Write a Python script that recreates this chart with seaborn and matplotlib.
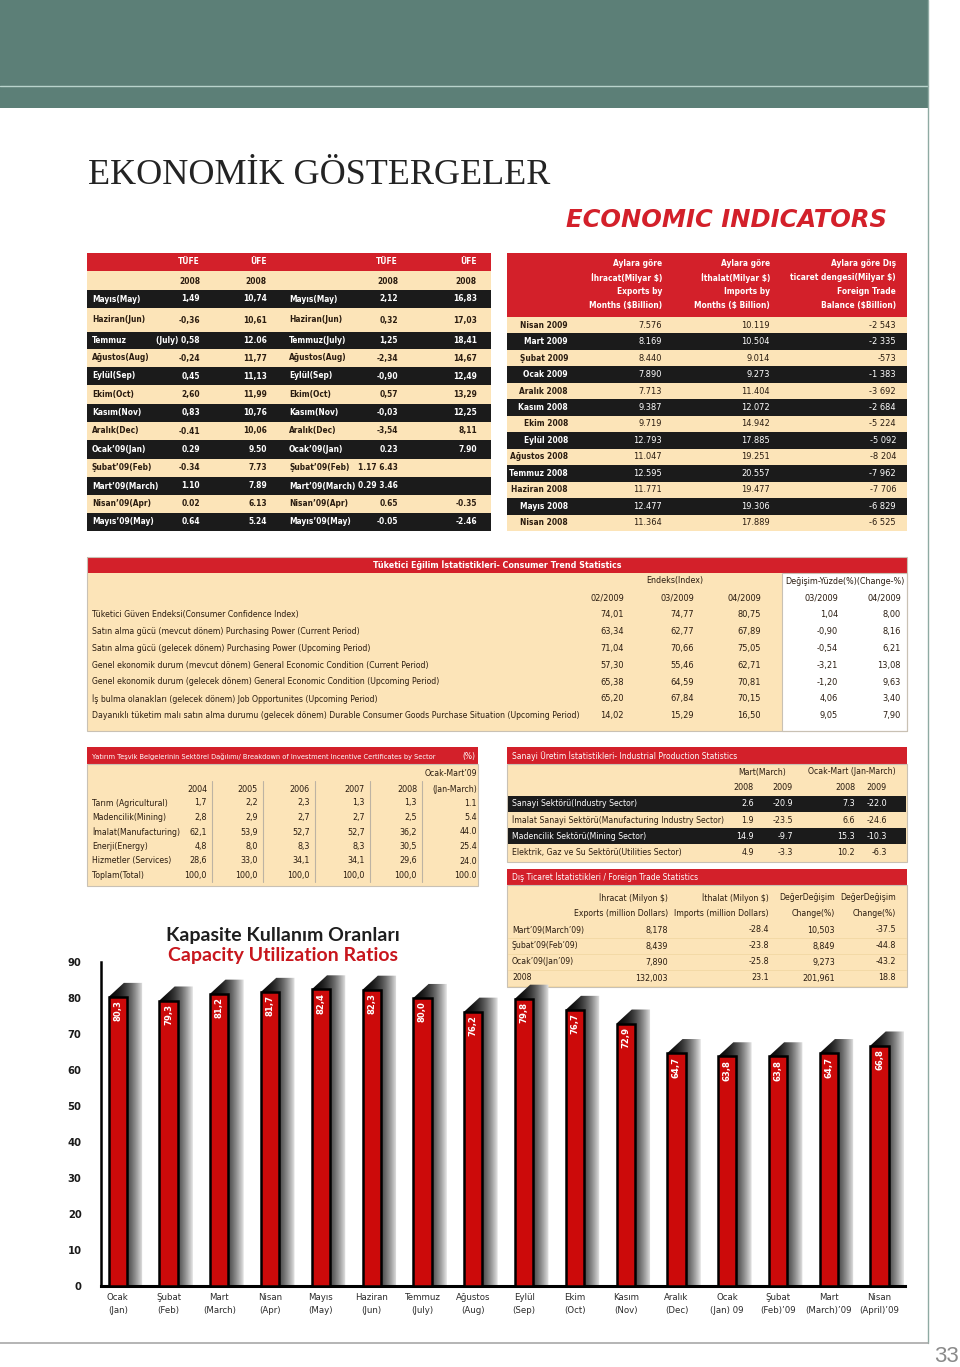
import numpy as np
import pandas as pd
import seaborn as sns
import matplotlib
matplotlib.use("Agg")
import matplotlib.pyplot as plt
from matplotlib import font_manager as fm
from matplotlib.patches import Rectangle, Polygon

# ---------------- data ----------------
# Table 1 : TÜFE / ÜFE
inf_labels_left = ["Mayıs(May)", "Haziran(Jun)", "Temmuz", "Ağustos(Aug)", "Eylül(Sep)", "Ekim(Oct)",
                   "Kasım(Nov)", "Aralık(Dec)", "Ocak’09(Jan)", "Şubat’09(Feb)", "Mart’09(March)",
                   "Nisan’09(Apr)", "Mayıs’09(May)"]
tufe_left = ["1,49", "-0,36", "(July) 0,58", "-0,24", "0,45", "2,60", "0,83", "-0.41", "0.29", "-0.34",
             "1.10", "0.02", "0.64"]
ufe_left = ["10,74", "10,61", "12.06", "11,77", "11,13", "11,99", "10,76", "10,06", "9.50", "7.73",
            "7.89", "6.13", "5.24"]
inf_labels_right = ["Mayıs(May)", "Haziran(Jun)", "Temmuz(July)", "Ağustos(Aug)", "Eylül(Sep)", "Ekim(Oct)",
                    "Kasım(Nov)", "Aralık(Dec)", "Ocak’09(Jan)", "Şubat’09(Feb)", "Mart’09(March)",
                    "Nisan’09(Apr)", "Mayıs’09(May)"]
tufe_right = ["2,12", "0,32", "1,25", "-2,34", "-0,90", "0,57", "-0,03", "-3,54", "0.23", "1.17 6.43",
              "0.29 3.46", "0.65", "-0.05"]
ufe_right = ["16,83", "17,03", "18,41", "14,67", "12,49", "13,29", "12,25", "8,11", "7.90", "", "",
             "-0.35", "-2.46"]

# Table 2 : monthly foreign trade
trade_months = ["Nisan 2009", "Mart 2009", "Şubat 2009", "Ocak 2009", "Aralık 2008", "Kasım 2008",
                "Ekim 2008", "Eylül 2008", "Ağustos 2008", "Temmuz 2008", "Haziran 2008", "Mayıs 2008",
                "Nisan 2008"]
exports_bn = ["7.576", "8.169", "8.440", "7.890", "7.713", "9.387", "9.719", "12.793", "11.047", "12.595",
              "11.771", "12.477", "11.364"]
imports_bn = ["10.119", "10.504", "9.014", "9.273", "11.404", "12.072", "14.942", "17.885", "19.251",
              "20.557", "19.477", "19.306", "17.889"]
balance_bn = ["-2 543", "-2 335", "-573", "-1 383", "-3 692", "-2 684", "-5 224", "-5 092", "-8 204",
              "-7 962", "-7 706", "-6 829", "-6 525"]

# Table 3 : consumer trend statistics
cons_labels = [
    "Tüketici Güven Endeksi(Consumer Confidence Index)",
    "Satın alma gücü (mevcut dönem) Purchasing Power (Current Period)",
    "Satın alma gücü (gelecek dönem) Purchasing Power (Upcoming Period)",
    "Genel ekonomik durum (mevcut dönem) General Economic Condition (Current Period)",
    "Genel ekonomik durum (gelecek dönem) General Economic Condition (Upcoming Period)",
    "İş bulma olanakları (gelecek dönem) Job Opportunites (Upcoming Period)",
    "Dayanıklı tüketim malı satın alma durumu (gelecek dönem) Durable Consumer Goods Purchase Situation (Upcoming Period)",
]
cons_02_2009 = ["74,01", "63,34", "71,04", "57,30", "65,38", "65,20", "14,02"]
cons_03_2009 = ["74,77", "62,77", "70,66", "55,46", "64,59", "67,84", "15,29"]
cons_04_2009 = ["80,75", "67,89", "75,05", "62,71", "70,81", "70,15", "16,50"]
chg_03_2009 = ["1,04", "-0,90", "-0,54", "-3,21", "-1,20", "4,06", "9,05"]
chg_04_2009 = ["8,00", "8,16", "6,21", "13,08", "9,63", "3,40", "7,90"]

# Table 4 : investment incentive certificates
inv_sectors = ["Tarım (Agricultural)", "Madencilik(Mining)", "İmalat(Manufacturing)", "Enerji(Energy)",
               "Hizmetler (Services)", "Toplam(Total)"]
inv_2004 = ["1,7", "2,8", "62,1", "4,8", "28,6", "100,0"]
inv_2005 = ["2,2", "2,9", "53,9", "8,0", "33,0", "100,0"]
inv_2006 = ["2,3", "2,7", "52,7", "8,3", "34,1", "100,0"]
inv_2007 = ["1,3", "2,7", "52,7", "8,3", "34,1", "100,0"]
inv_2008 = ["1,3", "2,5", "36,2", "30,5", "29,6", "100,0"]
inv_2009q1 = ["1.1", "5.4", "44.0", "25.4", "24.0", "100.0"]

# Table 5 : industrial production
ind_sectors = ["Sanayi Sektörü(Industry Sector)", "İmalat Sanayi Sektörü(Manufacturing Industry Sector)",
               "Madencilik Sektörü(Mining Sector)", "Elektrik, Gaz ve Su Sektörü(Utilities Sector)"]
ind_mar_2008 = ["2.6", "1.9", "14.9", "4.9"]
ind_mar_2009 = ["-20.9", "-23.5", "-9.7", "-3.3"]
ind_q1_2008 = ["7.3", "6.6", "15.3", "10.2"]
ind_q1_2009 = ["-22.0", "-24.6", "-10.3", "-6.3"]

# Table 6 : foreign trade statistics
ft_periods = ["Mart’09(March’09)", "Şubat’09(Feb’09)", "Ocak’09(Jan’09)", "2008"]
ft_exports = ["8,178", "8,439", "7,890", "132,003"]
ft_imports = ["-28.4", "-23.8", "-25.8", "23.1"]
ft_change_a = ["10,503", "8,849", "9,273", "201,961"]
ft_change_b = ["-37.5", "-44.8", "-43.2", "18.8"]

# Bar chart : capacity utilization
cap_months_tr = ["Ocak", "Şubat", "Mart", "Nisan", "Mayıs", "Haziran", "Temmuz", "Ağustos", "Eylül",
                 "Ekim", "Kasım", "Aralık", "Ocak", "Şubat", "Mart", "Nisan"]
cap_months_en = ["(Jan)", "(Feb)", "(March)", "(Apr)", "(May)", "(Jun)", "(July)", "(Aug)", "(Sep)",
                 "(Oct)", "(Nov)", "(Dec)", "(Jan) 09", "(Feb)’09", "(March)’09", "(April)’09"]
cap_values = [80.3, 79.3, 81.2, 81.7, 82.4, 82.3, 80.0, 76.2, 79.8, 76.7, 72.9, 64.7, 63.8, 63.8, 64.7, 66.8]
cap_yticks = [0, 10, 20, 30, 40, 50, 60, 70, 80, 90]

# ---------------- style ----------------
sns.set_theme(style="white")
names = {f.name for f in fm.fontManager.ttflist}
NARROW = "Liberation Sans Narrow" if "Liberation Sans Narrow" in names else "DejaVu Sans"
NS = 1.0 if NARROW == "Liberation Sans Narrow" else 0.8
ROUND = "Lato" if "Lato" in names else "DejaVu Sans"
SERIF = "Liberation Serif" if "Liberation Serif" in names else "DejaVu Serif"
plt.rcParams["font.family"] = [NARROW, "DejaVu Sans"]

RED = "#D3202A"
BEIGE = "#FCE4B8"
BLACK = "#1B1B1B"
DARK = "#2A1C10"
BORDER = "#C9C1B4"

fig = plt.figure(figsize=(9.6, 13.67), dpi=100)
ax0 = fig.add_axes([0, 0, 1, 1])
ax0.set_xlim(0, 960)
ax0.set_ylim(1367, 0)
ax0.axis("off")


def rect(x0, y0, x1, y1, fc, ec="none", lw=0, z=1):
    ax0.add_patch(Rectangle((x0, y0), x1 - x0, y1 - y0, facecolor=fc, edgecolor=ec, linewidth=lw, zorder=z))


def T(x, y, s, ha="left", color=DARK, size=7.2, weight="bold", family=None, va="center", **kw):
    ax0.text(x, y, s.replace("$", r"\$"), ha=ha, va=va, color=color, fontsize=size * NS,
             fontweight=weight, family=family or [NARROW, "DejaVu Sans"], zorder=5, **kw)


# ---------------- page decoration ----------------
rect(0, 0, 928, 108, "#5C7F77")
ax0.plot([0, 928], [86, 86], color="#B9D3CC", lw=1.0, zorder=2)
ax0.plot([928, 928], [0, 1343], color="#8FAAA3", lw=1.0, zorder=2)
ax0.plot([0, 928], [1343, 1343], color="#A8A8A8", lw=1.2, zorder=2)
ax0.text(946, 1356, "33", ha="center", va="center", fontsize=16, color="#8A8A8A", family="Liberation Sans")

ax0.text(88, 176, "EKONOMİK GÖSTERGELER", ha="left", va="center", fontsize=26, color="#232323",
         family=SERIF, fontweight="normal")
ax0.text(887, 220, "ECONOMIC INDICATORS", ha="right", va="center", fontsize=20.3 if NS == 1 else 17.5,
         color=RED, family=[NARROW, "DejaVu Sans"], fontweight="bold", fontstyle="italic")

# ---------------- Table 1 ----------------
L1, R1 = 87, 491
S1 = 6.8
rect(L1, 253, R1, 271, RED)
rect(L1, 271, R1, 290, BEIGE)
c_lab1, c_t1, c_u1, c_lab2, c_t2, c_u2 = 92, 200, 267, 289, 398, 477
for x, s in [(c_t1, "TÜFE"), (c_u1, "ÜFE"), (c_t2, "TÜFE"), (c_u2, "ÜFE")]:
    T(x, 262, s, ha="right", color="white", size=S1)
    T(x, 281, "2008", ha="right", color=DARK, size=S1)
row_h1 = [18, 24, 17, 18, 18, 19, 18, 18, 19, 18, 18, 18, 18]
y = 290
for i in range(len(inf_labels_left)):
    h = row_h1[i]
    dark = i % 2 == 0
    rect(L1, y, R1, y + h, BLACK if dark else BEIGE)
    col = "white" if dark else DARK
    yc = y + h / 2
    T(c_lab1, yc, inf_labels_left[i], color=col, size=S1)
    T(c_t1, yc, tufe_left[i], ha="right", color=col, size=S1)
    T(c_u1, yc, ufe_left[i], ha="right", color=col, size=S1)
    T(c_lab2, yc, inf_labels_right[i], color=col, size=S1)
    T(c_t2, yc, tufe_right[i], ha="right", color=col, size=S1)
    T(c_u2, yc, ufe_right[i], ha="right", color=col, size=S1)
    y += h

# ---------------- Table 2 ----------------
L2, R2 = 507, 907
rect(L2, 253, R2, 317, RED)
hdrs = [["Aylara göre", "İhracat(Milyar $)", "Exports by", "Months ($Billion)"],
        ["Aylara göre", "İthalat(Milyar $)", "Imports by", "Months ($ Billion)"],
        ["Aylara göre Dış", "ticaret dengesi(Milyar $)", "Foreign Trade", "Balance ($Billion)"]]
cols2 = [662, 770, 896]
for x, lines in zip(cols2, hdrs):
    for k, s in enumerate(lines):
        T(x, 264 + k * 13.7, s, ha="right", color="white", size=6.8)
rh2 = (531 - 317) / len(trade_months)
for i in range(len(trade_months)):
    y0 = 317 + i * rh2
    dark = i % 2 == 1
    rect(L2, y0, R2, y0 + rh2, BLACK if dark else BEIGE)
    col = "white" if dark else DARK
    yc = y0 + rh2 / 2
    T(568, yc, trade_months[i], ha="right", color=col, size=6.8)
    T(cols2[0], yc, exports_bn[i], ha="right", color=col, size=7.4, weight="normal")
    T(cols2[1], yc, imports_bn[i], ha="right", color=col, size=7.4, weight="normal")
    T(cols2[2], yc, balance_bn[i], ha="right", color=col, size=7.4, weight="normal")

# ---------------- Table 3 ----------------
rect(87, 557, 907, 573, RED)
rect(87, 573, 782, 731, BEIGE)
rect(782, 573, 907, 731, "white", ec=BORDER, lw=0.8)
rect(87, 557, 907, 731, "none", ec=BORDER, lw=0.8, z=3)
T(497, 565, "Tüketici Eğilim İstatistikleri- Consumer Trend Statistics", ha="center", color="white", size=7.2)
T(675, 581, "Endeks(Index)", ha="center", size=7.2, weight="normal")
T(905, 581, "Değişim-Yüzde(%)(Change-%)", ha="right", size=7.2, weight="normal")
cols3 = [624, 694, 761, 838, 901]
for x, s in zip(cols3, ["02/2009", "03/2009", "04/2009", "03/2009", "04/2009"]):
    T(x, 598, s, ha="right", size=7.4, weight="normal")
for i, lab in enumerate(cons_labels):
    yc = 615 + i * 16.75
    T(92, yc, lab, size=7.0, weight="normal")
    for x, arr in zip(cols3, [cons_02_2009, cons_03_2009, cons_04_2009, chg_03_2009, chg_04_2009]):
        T(x, yc, arr[i], ha="right", size=7.4, weight="normal")

# ---------------- Table 4 ----------------
rect(87, 747, 478, 764, RED)
rect(87, 764, 478, 886, BEIGE, ec=BORDER, lw=0.8)
T(92, 756, "Yatırım Teşvik Belgelerinin Sektörel Dağılımı/ Breakdown of Investment Incentive Certificates by Sector",
  color="white", size=6.0, weight="normal")
T(475, 756, "(%)", ha="right", color="white", size=6.8, weight="normal")
cols4 = [207, 258, 310, 365, 417, 477]
T(477, 774, "Ocak-Mart’09", ha="right", size=7.0, weight="normal")
T(477, 789, "(Jan-March)", ha="right", size=7.0, weight="normal")
for x, s in zip(cols4[:5], ["2004", "2005", "2006", "2007", "2008"]):
    T(x, 789, s, ha="right", size=7.2, weight="normal")
for xd in [212, 263, 315, 370, 422]:
    ax0.plot([xd, xd], [781, 882], color="#BDB3A3", lw=0.8, zorder=3)
for i, lab in enumerate(inv_sectors):
    yc = 803 + i * 14.5
    T(92, yc, lab, size=7.0, weight="normal")
    for x, arr in zip(cols4, [inv_2004, inv_2005, inv_2006, inv_2007, inv_2008, inv_2009q1]):
        T(x, yc, arr[i], ha="right", size=7.2, weight="normal")

# ---------------- Table 5 ----------------
rect(507, 747, 907, 764, RED)
rect(507, 764, 907, 862, BEIGE, ec=BORDER, lw=0.8)
T(512, 756, "Sanayi Üretim İstatistikleri- Industrial Production Statistics", color="white", size=6.9,
  weight="normal")
T(762, 772, "Mart(March)", ha="center", size=7.0, weight="normal")
T(852, 772, "Ocak-Mart (Jan-March)", ha="center", size=7.0, weight="normal")
cols5 = [754, 793, 855, 887]
for x, s in zip(cols5, ["2008", "2009", "2008", "2009"]):
    T(x, 788, s, ha="right", size=7.2, weight="normal")
for i, lab in enumerate(ind_sectors):
    y0 = 796 + i * 16.2
    dark = i % 2 == 0
    if dark:
        rect(508, y0, 906, y0 + 16, BLACK, z=2)
    col = "white" if dark else DARK
    yc = y0 + 8
    T(512, yc, lab, color=col, size=7.0, weight="normal")
    for x, arr in zip(cols5, [ind_mar_2008, ind_mar_2009, ind_q1_2008, ind_q1_2009]):
        T(x, yc, arr[i], ha="right", color=col, size=7.2, weight="normal")

# ---------------- Table 6 ----------------
rect(507, 869, 907, 885, RED)
rect(507, 885, 907, 987, BEIGE, ec=BORDER, lw=0.8)
T(512, 877, "Dış Ticaret İstatistikleri / Foreign Trade Statistics", color="white", size=6.9, weight="normal")
cols6 = [668, 769, 835, 896]
for x, a, b in zip(cols6, ["İhracat (Milyon $)", "İthalat (Milyon $)", "DeğerDeğişim", "DeğerDeğişim"],
                   ["Exports (million Dollars)", "Imports (million Dollars)", "Change(%)", "Change(%)"]):
    T(x, 898, a, ha="right", size=7.0, weight="normal")
    T(x, 914, b, ha="right", size=7.0, weight="normal")
for i, lab in enumerate(ft_periods):
    yc = 930 + i * 16
    ax0.plot([508, 906], [yc + 8, yc + 8], color="#F3D9A6", lw=0.7, zorder=2)
    T(512, yc, lab, size=7.0, weight="normal")
    for x, arr in zip(cols6, [ft_exports, ft_imports, ft_change_a, ft_change_b]):
        T(x, yc, arr[i], ha="right", size=7.2, weight="normal")

# ---------------- Bar chart ----------------
ax0.text(283, 935, "Kapasite Kullanım Oranları", ha="center", va="center", fontsize=14, fontweight="bold",
         color="#1E1E1E", family=ROUND)
ax0.text(283, 956, "Capacity Utilization Ratios", ha="center", va="center", fontsize=14, fontweight="bold",
         color="#C8161D", family=ROUND)

H = 1367
ax = fig.add_axes([101 / 960, (H - 1286) / H, (905 - 101) / 960, (1286 - 962) / H])
ax.patch.set_alpha(0)
cap_labels = [f"{a}\n{b}" for a, b in zip(cap_months_tr, cap_months_en)]
df = pd.DataFrame({"month": cap_labels, "value": cap_values})
sns.barplot(data=df, x="month", y="value", order=cap_labels, color="#CC0A0A", saturation=1,
            width=0.36, edgecolor="black", linewidth=1.8, ax=ax, zorder=3)

dx, dy = 0.30, 3.9
gx = np.linspace(0, 1, 80)
gray = 0.04 + 0.86 * gx ** 2.0
grad = np.repeat(gray[None, :, None], 3, axis=2)
for p, v in zip(ax.patches, cap_values):
    p.set_zorder(3)
    xl, w, h = p.get_x(), p.get_width(), p.get_height()
    xr = xl + w
    poly = Polygon([(xl, h), (xl + dx, h + dy), (xr + dx, h + dy), (xr + dx, 0), (xr, 0)],
                   closed=True, facecolor="none", edgecolor="none", transform=ax.transData)
    ax.add_patch(poly)
    im = ax.imshow(grad, extent=(xl, xr + dx, 0, h + dy), aspect="auto", origin="lower", zorder=1,
                   interpolation="bilinear")
    im.set_clip_path(poly)
    ax.text(xl + w / 2, h - 1.0, f"{v:.1f}".replace(".", ","), rotation=90, ha="center", va="top",
            color="white", fontsize=7.6 * NS, fontweight="bold", zorder=4)

ax.set_xlim(-0.33, 15.5)
ax.set_ylim(0, 90)
ax.set_yticks(cap_yticks)
ax.set_yticklabels([str(t) for t in cap_yticks])
ax.set_xlabel("")
ax.set_ylabel("")
for s in ["top", "right"]:
    ax.spines[s].set_visible(False)
ax.spines["left"].set_color("black")
ax.spines["left"].set_linewidth(1.8)
ax.spines["bottom"].set_color("black")
ax.spines["bottom"].set_linewidth(2.2)
ax.tick_params(axis="y", direction="out", length=9, width=1.8, color="black", pad=5,
               labelsize=9 * NS, labelcolor="#1A1A1A")
ax.tick_params(axis="x", length=0, pad=5, labelsize=7.8 * NS, labelcolor="#2A2A2A")
for lab in ax.get_xticklabels():
    lab.set_linespacing(1.6)
for lab in ax.get_yticklabels():
    lab.set_fontweight("bold")

fig.savefig("out.png", dpi=100)
